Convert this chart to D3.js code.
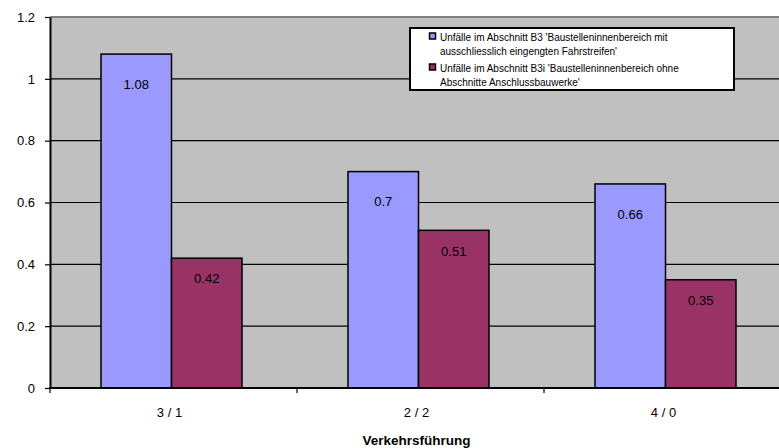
<!DOCTYPE html>
<html>
<head>
<meta charset="utf-8">
<script src="https://cdn.jsdelivr.net/npm/d3@7"></script>
<style>
  html, body { margin: 0; padding: 0; background: #ffffff; }
  svg { display: block; font-family: "Liberation Sans", Arial, sans-serif; }
</style>
</head>
<body>
<svg id="chart" width="779" height="448"></svg>
<script>
// ---- data ----
const categories = ["3 / 1", "2 / 2", "4 / 0"];
const seriesKeys = ["B3", "B3i"];
const valuesB3 = [1.08, 0.7, 0.66];
const valuesB3i = [0.42, 0.51, 0.35];
const yTickValues = [0, 0.2, 0.4, 0.6, 0.8, 1, 1.2];
const legendB3 = ["Unfälle im Abschnitt B3 'Baustelleninnenbereich mit", "ausschliesslich eingengten Fahrstreifen'"];
const legendB3i = ["Unfälle im Abschnitt B3i 'Baustelleninnenbereich ohne", "Abschnitte Anschlussbauwerke'"];
const xAxisTitle = "Verkehrsführung";

// ---- layout ----
const svg = d3.select("#chart");
const plot = { left: 50, right: 791, top: 17, bottom: 388 };
const colors = { B3: "#9999FF", B3i: "#993366" };
const labelOffset = { B3: 30, B3i: 20.5 };

const x0 = d3.scaleBand().domain(categories).range([plot.left, plot.right]);
const x1 = d3.scaleBand().domain(seriesKeys).range([51, 192]);
const y = d3.scaleLinear().domain([0, 1.2]).range([plot.bottom, plot.top]);

const rows = categories.map((c, i) => ({ cat: c, B3: valuesB3[i], B3i: valuesB3i[i] }));

// plot background
svg.append("rect")
  .attr("x", plot.left).attr("y", plot.top)
  .attr("width", plot.right - plot.left).attr("height", plot.bottom - plot.top)
  .attr("fill", "#C0C0C0");

// top border
svg.append("line")
  .attr("x1", plot.left).attr("x2", plot.right)
  .attr("y1", y(1.2)).attr("y2", y(1.2))
  .attr("stroke", "#808080").attr("stroke-width", 2);

// gridlines
svg.append("g").selectAll("line")
  .data(yTickValues.filter(v => v > 0 && v < 1.2))
  .join("line")
  .attr("x1", plot.left).attr("x2", plot.right)
  .attr("y1", d => y(d)).attr("y2", d => y(d))
  .attr("stroke", "#000").attr("stroke-width", 1.2);

// bars
const groups = svg.append("g").selectAll("g")
  .data(rows).join("g")
  .attr("transform", d => `translate(${x0(d.cat)},0)`);

groups.selectAll("rect")
  .data(d => seriesKeys.map(k => ({ key: k, value: d[k] })))
  .join("rect")
  .attr("x", d => x1(d.key))
  .attr("y", d => y(d.value))
  .attr("width", x1.bandwidth())
  .attr("height", d => y(0) - y(d.value))
  .attr("fill", d => colors[d.key])
  .attr("stroke", "#000").attr("stroke-width", 1.5);

groups.selectAll("text")
  .data(d => seriesKeys.map(k => ({ key: k, value: d[k] })))
  .join("text")
  .attr("x", d => x1(d.key) + x1.bandwidth() / 2)
  .attr("y", d => y(d.value) + labelOffset[d.key])
  .attr("dy", "0.36em")
  .attr("text-anchor", "middle")
  .attr("font-size", 13)
  .attr("fill", "#000")
  .text(d => String(d.value));

// y axis
const yAxis = svg.append("g")
  .attr("transform", `translate(${plot.left},0)`)
  .call(d3.axisLeft(y).tickValues(yTickValues).tickSize(5).tickSizeOuter(0).tickPadding(10).tickFormat(d => String(d)));
yAxis.select(".domain").attr("stroke", "#000").attr("stroke-width", 2);
yAxis.selectAll(".tick line").attr("stroke", "#000").attr("stroke-width", 1.2);
yAxis.selectAll(".tick text").attr("font-size", 13).attr("font-family", "Liberation Sans, Arial, sans-serif").attr("fill", "#000");

// x axis
svg.append("line")
  .attr("x1", plot.left - 1).attr("x2", plot.right)
  .attr("y1", y(0)).attr("y2", y(0))
  .attr("stroke", "#000").attr("stroke-width", 2);

const boundaries = categories.map(c => x0(c)).concat([x0(categories[categories.length - 1]) + x0.bandwidth()]);
svg.append("g").selectAll("line")
  .data(boundaries)
  .join("line")
  .attr("x1", d => d).attr("x2", d => d)
  .attr("y1", y(0)).attr("y2", y(0) + 5)
  .attr("stroke", "#000").attr("stroke-width", 1.2);

svg.append("g").selectAll("text")
  .data(categories)
  .join("text")
  .attr("x", d => x0(d) + x0.bandwidth() / 2 - 4)
  .attr("y", 417)
  .attr("text-anchor", "middle")
  .attr("font-size", 13)
  .attr("fill", "#000")
  .text(d => d);

svg.append("text")
  .attr("x", (plot.left + plot.right) / 2 - 4)
  .attr("y", 445)
  .attr("text-anchor", "middle")
  .attr("font-size", 13.5)
  .attr("font-weight", "bold")
  .attr("fill", "#000")
  .text(xAxisTitle);

// legend
const legend = svg.append("g");
legend.append("rect")
  .attr("x", 410).attr("y", 28).attr("width", 324).attr("height", 62)
  .attr("fill", "#fff").attr("stroke", "#000").attr("stroke-width", 2);

const legendEntries = [
  { key: "B3", lines: legendB3, top: 40.5 },
  { key: "B3i", lines: legendB3i, top: 71.5 }
];
legendEntries.forEach(e => {
  legend.append("rect")
    .attr("x", 429.5).attr("y", e.top - 7.5).attr("width", 6).attr("height", 6)
    .attr("fill", colors[e.key]).attr("stroke", "#000").attr("stroke-width", 1.5);
  e.lines.forEach((ln, i) => {
    legend.append("text")
      .attr("x", 440).attr("y", e.top + i * 14)
      .attr("font-size", 10)
      .attr("fill", "#000")
      .text(ln);
  });
});
</script>
</body>
</html>
